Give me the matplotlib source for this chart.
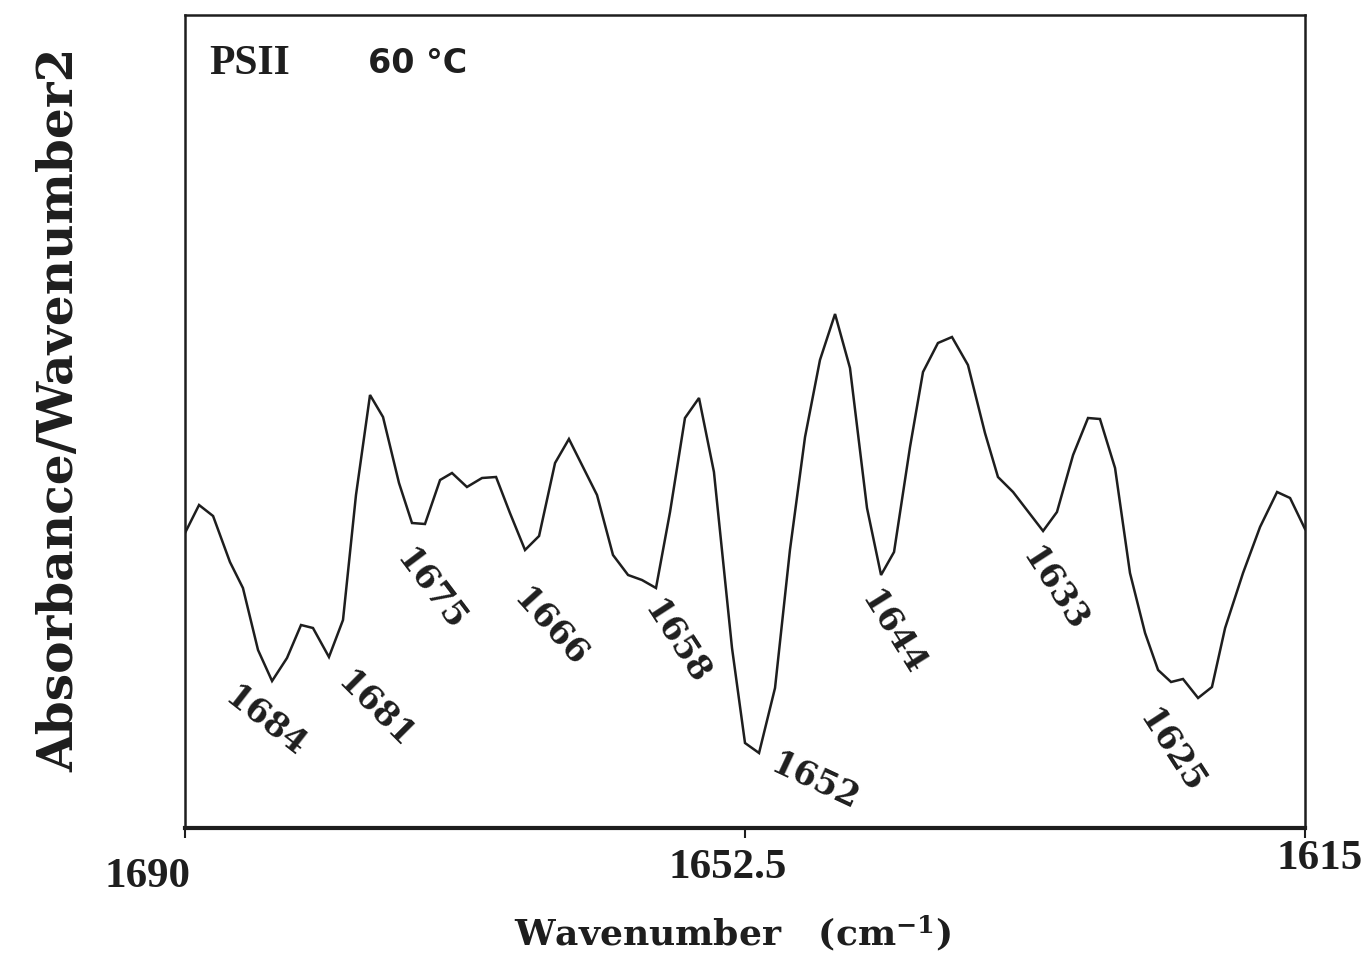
import numpy as np
import matplotlib.pyplot as plt

plt.rcParams['mathtext.fontset'] = 'custom'
plt.rcParams['mathtext.rm'] = 'DejaVu Serif:bold'
plt.rcParams['mathtext.it'] = 'DejaVu Serif:bold'

# second-derivative-like spectrum (arbitrary units)
wavenumber = [1690.0, 1689.06, 1688.12, 1686.99, 1686.12, 1685.11, 1684.17, 1683.17,
              1682.23, 1681.43, 1680.36, 1679.42, 1678.55, 1677.61, 1676.74, 1675.67,
              1674.80, 1673.93, 1672.92, 1672.12, 1671.12, 1670.11, 1669.17, 1668.24,
              1667.23, 1666.29, 1665.22, 1664.29, 1662.41, 1661.34, 1660.33, 1659.40,
              1658.46, 1657.52, 1656.52, 1655.58, 1654.58, 1653.37, 1652.50, 1651.56,
              1650.49, 1649.49, 1648.48, 1647.48, 1646.47, 1645.47, 1644.33, 1643.39,
              1642.52, 1641.45, 1640.58, 1639.58, 1638.64, 1637.57, 1636.43, 1635.56,
              1634.55, 1632.54, 1631.61, 1630.53, 1629.53, 1628.73, 1627.72, 1626.72,
              1625.71, 1624.84, 1623.97, 1623.17, 1622.16, 1621.23, 1620.35, 1619.15,
              1618.01, 1616.87, 1616.00, 1615.0]
signal = [29.5, 32.3, 31.2, 26.6, 24.0, 17.8, 14.7, 17.0,
          20.3, 20.0, 17.1, 20.8, 33.3, 43.3, 41.1, 34.5,
          30.5, 30.4, 34.8, 35.5, 34.1, 35.0, 35.1, 31.5,
          27.8, 29.2, 36.5, 38.9, 33.3, 27.3, 25.3, 24.8,
          24.0, 31.6, 41.0, 43.0, 35.6, 18.0, 8.5, 7.5,
          14.0, 27.8, 39.1, 46.8, 51.4, 46.0, 32.0, 25.3,
          27.6, 38.1, 45.6, 48.5, 49.1, 46.3, 39.5, 35.1,
          33.6, 29.7, 31.6, 37.3, 41.0, 40.9, 36.0, 25.5,
          19.5, 15.8, 14.6, 14.9, 13.0, 14.1, 20.0, 25.5,
          30.1, 33.6, 33.0, 29.9]

bands = [1684, 1681, 1675, 1666, 1658, 1652, 1644, 1633, 1625]
band_angles = [-38, -45, -53, -48, -57, -25, -58, -57, -57]
band_offsets = [(-9, -41), (56, -53), (21, -66), (7, -78), (13, -55),
                (63, -29), (21, -58), (18, -59), (16, -70)]

xticks = [1690, 1652.5, 1615]
xticklabels = ['1690', '1652.5', '1615']
# scan skew: per-label shift in pixels (dx, dy) from the axis line
tick_shift = [(-38, -49), (-17, -40), (15, -31)]

wn = np.array(wavenumber)
sg = np.array(signal)
ink = '#1e1e1e'

fig = plt.figure(figsize=(13.62, 9.65), dpi=100)
ax = fig.add_axes([185 / 1362, 1 - 828 / 965, 1120 / 1362, 813 / 965])

ax.plot(wn, sg, color=ink, lw=1.8, solid_joinstyle='miter')
ax.set_xlim(1690, 1615)
ax.set_ylim(0, 81.3)

for b, ang, off in zip(bands, band_angles, band_offsets):
    win = (wn >= b - 2) & (wn <= b + 2)
    ymin = sg[win].min()
    ax.annotate(str(b), xy=(b, ymin), xytext=off, textcoords='offset pixels',
                rotation=ang, ha='center', va='center', rotation_mode='anchor',
                fontsize=24, fontweight='bold', family='DejaVu Serif', color=ink)

ax.text(0.022, 0.94, 'PSII', transform=ax.transAxes, fontsize=30,
        fontweight='bold', family='Liberation Serif', color=ink, va='center')
ax.text(0.163, 0.94, '60 °C', transform=ax.transAxes, fontsize=24,
        fontweight='bold', family='DejaVu Sans', color=ink, va='center')

ax.set_xticks(xticks)
ax.set_xticklabels([])
for t, lab, off in zip(xticks, xticklabels, tick_shift):
    ax.annotate(lab, xy=(t, 0), xycoords=ax.get_xaxis_transform(), xytext=off,
                textcoords='offset pixels', ha='center', va='center',
                fontsize=31, fontweight='bold', family='Liberation Serif',
                color=ink, annotation_clip=False)
ax.set_yticks([])
ax.tick_params(axis='x', direction='out', length=7, width=1.5, colors=ink)
for side in ['left', 'top', 'right']:
    ax.spines[side].set_linewidth(1.8)
    ax.spines[side].set_color(ink)
ax.spines['bottom'].set_linewidth(3.0)
ax.spines['bottom'].set_color(ink)

fig.text(60 / 1362, 1 - 410 / 965, 'Absorbance/Wavenumber2', rotation=90,
         ha='center', va='center', fontsize=35, fontweight='bold',
         family='DejaVu Serif', color=ink)
fig.text(733 / 1362, 1 - 933 / 965, r'Wavenumber   (cm$^{\mathregular{-1}}$)',
         ha='center', va='center', fontsize=26, fontweight='bold',
         family='DejaVu Serif', color=ink)

fig.savefig('out.png', dpi=100)
